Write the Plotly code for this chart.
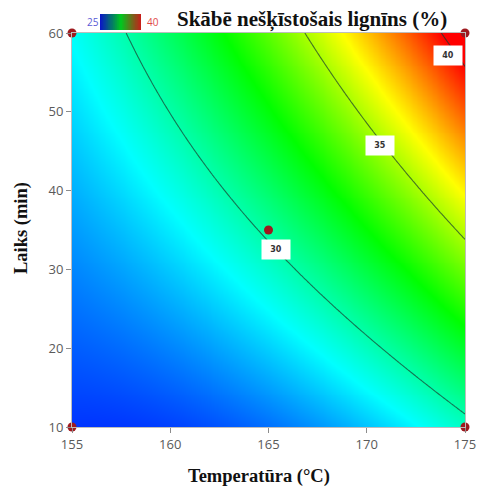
import numpy as np
import plotly.graph_objects as go

# Quadratic response-surface model in coded units
# (A = temperature, B = time; both scaled to -1..+1)
model_terms = ["Intercept", "A", "B", "AB", "A^2", "B^2"]
model_coef = [30.21, 4.00, 3.60, 2.07, 1.06, 0.03]

temp_center, temp_half = 165.0, 10.0
time_center, time_half = 35.0, 25.0

# Design points (temperature in °C, time in min)
design_temp = [155, 155, 175, 175, 165]
design_time = [10, 60, 10, 60, 35]

x_ticks = [155, 160, 165, 170, 175]
y_ticks = [10, 20, 30, 40, 50, 60]
contour_levels = [30, 35, 40]
# where each iso-line label sits (temperature, time)
label_temp = [165.36, 170.67, 174.13]
label_time = [32.5, 45.7, 57.2]

legend_min, legend_max = 25, 40

temps = np.linspace(155, 175, 161)
times = np.linspace(10, 60, 201)
A, B = np.meshgrid((temps - temp_center) / temp_half, (times - time_center) / time_half)
b0, bA, bB, bAB, bAA, bBB = model_coef
Z = b0 + bA * A + bB * B + bAB * A * B + bAA * A ** 2 + bBB * B ** 2

surface_scale = [[0, "rgb(0,0,255)"], [0.25, "rgb(0,255,255)"], [0.5, "rgb(0,255,0)"],
                 [0.75, "rgb(255,255,0)"], [1, "rgb(255,0,0)"]]
legend_scale = [[0, "rgb(10,20,200)"], [0.5, "rgb(0,200,30)"], [1, "rgb(205,25,25)"]]

fig = go.Figure()
fig.add_trace(go.Heatmap(x=temps, y=times, z=Z, zmin=legend_min, zmax=legend_max,
                         colorscale=surface_scale, zsmooth="best", showscale=False,
                         hoverinfo="skip"))
fig.add_trace(go.Contour(x=temps, y=times, z=Z,
                         contours=dict(start=contour_levels[0], end=contour_levels[-1],
                                       size=contour_levels[1] - contour_levels[0],
                                       coloring="none"),
                         line=dict(color="rgba(25,60,45,0.7)", width=1.1),
                         showscale=False, hoverinfo="skip"))
fig.add_trace(go.Scatter(x=design_temp, y=design_time, mode="markers",
                         marker=dict(color="#9e1a1f", size=9), cliponaxis=False,
                         hoverinfo="skip"))

# small colour key beside the title
ramp = np.linspace(legend_min, legend_max, 60)
fig.add_trace(go.Heatmap(z=[ramp, ramp], x=ramp, y=[0, 1], colorscale=legend_scale,
                         zmin=legend_min, zmax=legend_max, zsmooth="best",
                         showscale=False, hoverinfo="skip", xaxis="x2", yaxis="y2"))

grey = "#8c8c8c"
tick_font = dict(family="Open Sans, DejaVu Sans, sans-serif", size=13, color="#5a5a5a")
serif_bold = dict(family="Liberation Serif, Times New Roman, serif", size=18.5, color="#111111")

annotations = []
for lvl, lt, lm in zip(contour_levels, label_temp, label_time):
    annotations.append(dict(x=lt, y=lm, xref="x", yref="y", text=f"<b>{lvl}</b>",
                            showarrow=False, bgcolor="white", width=26, height=17,
                            xanchor="center", yanchor="middle",
                            font=dict(family="DejaVu Sans, sans-serif", size=8,
                                      color="#333333")))
annotations += [
    dict(x=0.611, y=0.9645, xref="paper", yref="paper",
         text="<b>Skābē nešķīstošais lignīns (%)</b>", showarrow=False,
         font=dict(serif_bold, size=21), xanchor="center", yanchor="middle"),
    dict(x=(93 - 72) / 393, y=(427 - 22) / 422, xref="paper", yref="paper",
         text=str(legend_min), showarrow=False, xanchor="center", yanchor="middle",
         font=dict(family="Open Sans, sans-serif", size=10, color="#5a5ad6")),
    dict(x=(153 - 72) / 393, y=(427 - 22) / 422, xref="paper", yref="paper",
         text=str(legend_max), showarrow=False, xanchor="center", yanchor="middle",
         font=dict(family="Open Sans, sans-serif", size=10, color="#e04848")),
    dict(x=-0.127, y=0.4716, xref="paper", yref="paper", text="<b>Laiks (min)</b>",
         showarrow=False, textangle=-90, font=serif_bold,
         xanchor="center", yanchor="middle"),
    dict(x=0.476, y=-0.118, xref="paper", yref="paper", text="<b>Temperatūra (°C)</b>",
         showarrow=False, font=serif_bold, xanchor="center", yanchor="middle"),
]

fig.update_layout(
    width=477, height=493, margin=dict(l=72, r=12, t=5, b=66),
    template="none", plot_bgcolor="white", paper_bgcolor="white", showlegend=False,
    xaxis=dict(range=[155, 175], tickvals=x_ticks, ticks="outside", ticklen=5,
               tickcolor=grey, showgrid=False, zeroline=False, showline=True,
               linecolor="#bdbdbd", mirror=True, tickfont=tick_font, automargin=False),
    yaxis=dict(range=[10, 60], domain=[0, 394 / 422], tickvals=y_ticks, ticks="outside",
               ticklen=5, tickcolor=grey, showgrid=False, zeroline=False, showline=True,
               linecolor="#bdbdbd", mirror=True, tickfont=tick_font, automargin=False),
    xaxis2=dict(domain=[(100 - 72) / 393, (141 - 72) / 393], anchor="y2",
                range=[legend_min, legend_max], visible=False, fixedrange=True),
    yaxis2=dict(domain=[(427 - 30) / 422, (427 - 14) / 422], anchor="x2",
                range=[0, 1], visible=False, fixedrange=True),
    annotations=annotations,
)
fig.write_html("out.html")
